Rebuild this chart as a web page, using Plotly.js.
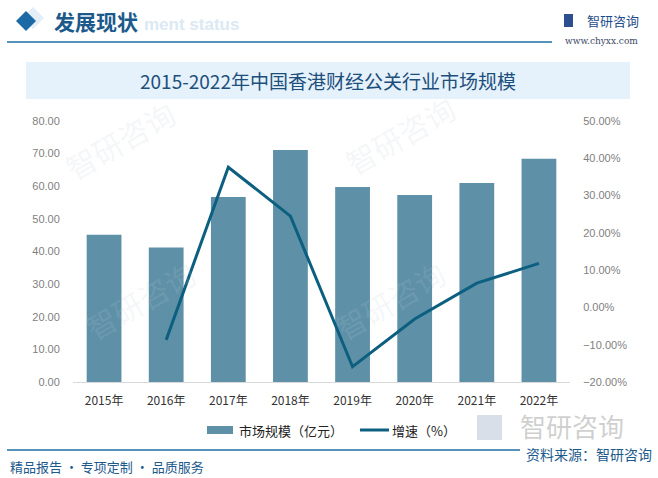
<!DOCTYPE html>
<html>
<head>
<meta charset="utf-8">
<script src="https://cdn.plot.ly/plotly-3.0.1.min.js"></script>
<style>
html,body{margin:0;padding:0;background:#fff;}
#chart{width:658px;height:478px;}
</style>
</head>
<body>
<div id="chart"></div>
<script>
// ---- data ----
var years = ['2015年','2016年','2017年','2018年','2019年','2020年','2021年','2022年'];
var marketSize = [45.1, 41.2, 56.7, 71.1, 59.8, 57.3, 61.0, 68.4];
var growth = [null, -0.087, 0.376, 0.245, -0.159, -0.031, 0.065, 0.118];
var seriesNames = ['市场规模（亿元）', '增速（%）'];
var chartTitle = '2015-2022年中国香港财经公关行业市场规模';
var headerText = '发展现状';
var headerSub = 'ment status';
var sourceText = '资料来源：智研咨询';
var footerText = '精品报告 · 专项定制 · 品质服务';
var brandText = '智研咨询';
var siteText = 'www.chyxx.com';

// ---- layout helpers (pixel -> paper) ----
var L = 73, R = 570, T = 121, B = 382, W = 658, H = 478;
function px(x){ return (x - L) / (R - L); }
function py(y){ return (B - y) / (B - T); }

var CJK = '"Noto Sans CJK SC", "Liberation Sans", sans-serif';
var NUM = '"Liberation Sans", "Noto Sans CJK SC", sans-serif';
var barColor = '#5e91a7';
var lineColor = '#0d5f80';
var darkBlue = '#1c5a8c';

var traces = [
  {type:'bar', x: years, y: marketSize, name: seriesNames[0], marker:{color: barColor}, yaxis:'y', showlegend:false, hoverinfo:'x+y'},
  {type:'scatter', mode:'lines', x: years, y: growth, name: seriesNames[1], line:{color: lineColor, width: 3}, yaxis:'y2', showlegend:false, connectgaps:false}
];

var shapes = [
  // title band
  {type:'rect', xref:'paper', yref:'paper', x0:px(26), x1:px(630), y0:py(99), y1:py(62), fillcolor:'#e6f2fb', line:{width:0}, layer:'below'},
  // header diamond (light shadow + main)
  {type:'path', xref:'paper', yref:'paper', path:'M'+px(22)+','+py(18)+' L'+px(33)+','+py(7)+' L'+px(44)+','+py(18)+' L'+px(33)+','+py(29)+' Z', fillcolor:'#e3eef7', line:{width:0}, layer:'below'},
  {type:'path', xref:'paper', yref:'paper', path:'M'+px(16)+','+py(21)+' L'+px(26)+','+py(11)+' L'+px(36)+','+py(21)+' L'+px(26)+','+py(31)+' Z', fillcolor:'#1b6aa5', line:{width:0}},
  // header line
  {type:'line', xref:'paper', yref:'paper', x0:px(7), x1:px(552), y0:py(42), y1:py(42), line:{color:'#1f6ea3', width:1.5}},
  // bottom line
  {type:'line', xref:'paper', yref:'paper', x0:px(7), x1:px(520), y0:py(450), y1:py(450), line:{color:'#1f6ea3', width:1.5}},
  // brand icon (small)
  {type:'rect', xref:'paper', yref:'paper', x0:px(564), x1:px(573), y0:py(27), y1:py(14), fillcolor:'#2d4f8f', line:{width:0}},
  // big watermark icon
  {type:'rect', xref:'paper', yref:'paper', x0:px(477), x1:px(502), y0:py(440), y1:py(415), fillcolor:'rgba(170,185,205,0.45)', line:{width:0}},
  // legend swatches
  {type:'rect', xref:'paper', yref:'paper', x0:px(207), x1:px(233), y0:py(434), y1:py(426), fillcolor: barColor, line:{width:0}},
  {type:'line', xref:'paper', yref:'paper', x0:px(360), x1:px(389), y0:py(430), y1:py(430), line:{color: lineColor, width:3}}
];

var annotations = [
  {xref:'paper', yref:'paper', x:px(142), y:py(24), xanchor:'left', yanchor:'middle', text:'<b>'+headerSub+'</b>', showarrow:false, font:{family:NUM, size:17, color:'#dbe9f4'}},
  {xref:'paper', yref:'paper', x:px(52), y:py(21), xanchor:'left', yanchor:'middle', text:'<b>'+headerText+'</b>', showarrow:false, font:{family:CJK, size:21, color: darkBlue}},
  {xref:'paper', yref:'paper', x:px(585), y:py(20), xanchor:'left', yanchor:'middle', text: brandText, showarrow:false, font:{family:CJK, size:13, color:'#1f4e8c'}},
  {xref:'paper', yref:'paper', x:px(601), y:py(41), xanchor:'center', yanchor:'middle', text: siteText, showarrow:false, font:{family:'"DejaVu Serif", serif', size:9, color:'#3b4a66'}},
  {xref:'paper', yref:'paper', x:px(328), y:py(80), xanchor:'center', yanchor:'middle', text: chartTitle, showarrow:false, font:{family:CJK, size:19, color:'#1c4f7c'}},
  {xref:'paper', yref:'paper', x:px(572), y:py(425), xanchor:'center', yanchor:'middle', text: brandText, showarrow:false, borderpad:0, font:{family:CJK, size:26, color:'rgba(160,160,160,0.5)'}},
  {xref:'paper', yref:'paper', x:px(237), y:py(430), xanchor:'left', yanchor:'middle', text: seriesNames[0], showarrow:false, font:{family:CJK, size:13, color:'#222'}},
  {xref:'paper', yref:'paper', x:px(390), y:py(430), xanchor:'left', yanchor:'middle', text: seriesNames[1], showarrow:false, font:{family:CJK, size:13, color:'#222'}},
  {xref:'paper', yref:'paper', x:px(653), y:py(454), xanchor:'right', yanchor:'middle', text: sourceText, showarrow:false, borderpad:0, font:{family:CJK, size:14, color: darkBlue}},
  {xref:'paper', yref:'paper', x:px(8), y:py(466), xanchor:'left', yanchor:'middle', text: footerText, showarrow:false, font:{family:CJK, size:13, color: darkBlue}}
];

// faint diagonal watermarks
var wm = [[120,140],[140,300],[400,135],[390,300]];
wm.forEach(function(p){
  annotations.push({xref:'paper', yref:'paper', x:px(p[0]), y:py(p[1]), xanchor:'center', yanchor:'middle', text: brandText, textangle:-30, showarrow:false, font:{family:CJK, size:30, color:'rgba(185,200,215,0.16)'}});
});

var layout = {
  width: W, height: H,
  margin: {l: L, r: W - R, t: T, b: H - B, pad: 0},
  paper_bgcolor: '#ffffff', plot_bgcolor: 'rgba(0,0,0,0)',
  bargap: 0.44,
  showlegend: false,
  font: {family: NUM, color:'#595959'},
  xaxis: {
    type:'category', showgrid:false, zeroline:false,
    showline:true, linecolor:'#d9d9d9', linewidth:1,
    ticks:'outside', ticklen:8, tickcolor:'rgba(0,0,0,0)',
    tickfont:{family:CJK, size:12, color:'#333333'}
  },
  yaxis: {
    range:[0,80], dtick:10, tickformat:'.2f', showgrid:false, zeroline:false, showline:false,
    ticks:'outside', ticklen:10, tickcolor:'rgba(0,0,0,0)',
    tickfont:{family:NUM, size:11, color:'#7f7f7f'}
  },
  yaxis2: {
    range:[-0.2,0.5], dtick:0.1, tickformat:'.2%', overlaying:'y', side:'right',
    showgrid:false, zeroline:false, showline:false,
    ticks:'outside', ticklen:10, tickcolor:'rgba(0,0,0,0)',
    tickfont:{family:NUM, size:11, color:'#7f7f7f'}
  },
  shapes: shapes,
  annotations: annotations
};

Plotly.newPlot('chart', traces, layout, {staticPlot:true, displayModeBar:false});
</script>
</body>
</html>
